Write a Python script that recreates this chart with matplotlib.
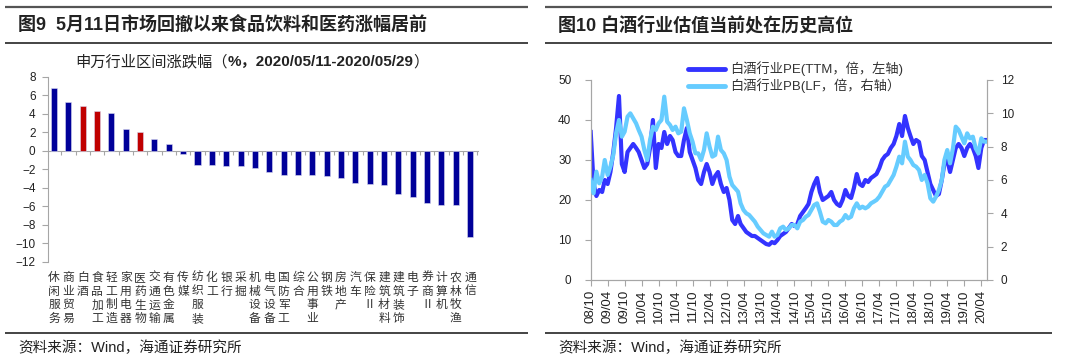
import matplotlib
matplotlib.use('Agg')
import matplotlib.pyplot as plt
import matplotlib.transforms as mtransforms
from matplotlib.lines import Line2D
import pandas as pd
import numpy as np

# ---------------- data ----------------
industries = ['休闲服务', '商业贸易', '白酒', '食品加工', '轻工制造', '家用电器', '医药生物',
              '交通运输', '有色金属', '传媒', '纺织服装', '化工', '银行', '采掘', '机械设备',
              '电气设备', '国防军工', '综合', '公用事业', '钢铁', '房地产', '汽车', '保险Ⅱ',
              '建筑材料', '建筑装饰', '电子', '券商Ⅱ', '计算机', '农林牧渔', '通信']
returns = [6.74, 5.23, 4.86, 4.32, 4.04, 2.38, 1.98, 1.23, 0.68, -0.35,
           -1.59, -1.59, -1.60, -1.66, -1.87, -2.31, -2.63, -2.63, -2.67, -2.77,
           -2.92, -3.53, -3.60, -3.71, -4.72, -4.97, -5.69, -5.87, -5.91, -9.30]
highlight = ['白酒', '食品加工', '医药生物']

# monthly observations from 2008-10 to 2020-05, plus the last day 2020-05-29
pe_ttm = [37, 24, 21,
          22.5, 22, 25, 24, 27, 32, 38, 46, 29, 27, 32, 33,
          34, 33, 32, 30, 28, 29, 33, 40, 28, 34, 33, 37,
          34, 36, 35, 32, 31, 31, 35, 38, 32, 30, 28, 25,
          24, 27, 29, 27, 24, 26, 27, 24, 22, 23, 20, 15,
          14, 16, 14, 13, 12, 11.5, 11, 11, 10.5, 10, 9.5, 9,
          8.8, 9.5, 9.2, 10, 11, 11.5, 12, 13, 14, 13.5, 14, 16,
          17, 18, 19, 22, 24, 25.5, 22, 20, 20.5, 21, 22, 20,
          19, 18.5, 20, 22.5, 21, 20.5, 23, 26.5, 24, 23.5, 25, 24.5,
          25.5, 26, 26.5, 28, 30, 31, 31.5, 33, 34, 36, 39, 36,
          41, 38, 36, 34, 35, 34.5, 31, 30, 27, 24, 22.5, 21,
          21.5, 25, 29, 30, 27, 30, 33, 34, 33, 31, 33, 34,
          33, 31, 28, 33, 35, 35]
pb_lf = [6.0, 5.2, 6.5,
         5.8, 6.2, 7.2, 6.3, 6.8, 7.5, 8.8, 9.6, 8.6, 8.9, 9.8, 10.0,
         9.7, 9.4, 9.0, 8.6, 7.8, 7.2, 8.4, 9.2, 9.0, 9.4, 9.6, 11.0,
         9.5, 9.3, 9.0, 9.2, 8.8, 8.9, 10.3, 9.6, 8.8, 8.3, 7.6, 7.6,
         7.2, 7.8, 8.8, 8.0, 7.4, 7.5, 8.6, 7.8, 7.6, 7.2, 6.2, 5.7,
         5.5, 5.3, 4.6, 4.2, 4.0, 3.9, 3.7, 3.5, 3.2, 3.0, 2.8, 2.7,
         2.6, 2.9, 2.6, 2.7, 3.1, 3.2, 3.0, 3.1, 3.3, 3.3, 3.1, 3.5,
         3.6, 3.8, 3.9, 4.2, 4.5, 4.6, 4.1, 3.5, 3.4, 3.6, 3.5, 3.3,
         3.3, 3.5, 3.6, 3.9, 3.7, 3.8, 4.3, 4.6, 4.3, 4.4, 4.3, 4.4,
         4.6, 4.7, 4.8, 5.0, 5.3, 5.6, 5.7, 6.0, 6.3, 6.8, 7.4, 7.0,
         8.3, 7.4, 7.2, 6.9, 6.8, 6.6, 6.0, 6.3, 5.8, 4.9, 4.7, 5.0,
         5.4, 6.0, 7.2, 7.8, 7.0, 7.9, 9.2, 9.0, 8.6, 8.2, 8.8, 8.5,
         8.6, 7.9, 7.6, 8.5, 8.3, 8.3]
dates = list(pd.date_range('2008-10-01', '2020-05-01', freq='MS')) + [pd.Timestamp('2020-05-29')]

# ---------------- figure ----------------
W, H = 1080, 364
plt.rcParams['font.family'] = ['Liberation Sans', 'Noto Sans CJK SC', 'DejaVu Sans']
fig = plt.figure(figsize=(W / 100, H / 100), dpi=100)


def fx(x):
    return x / W


def fy(y):
    return 1 - y / H


def hline(x0, x1, y, lw, color):
    fig.add_artist(Line2D([fx(x0), fx(x1)], [fy(y), fy(y)], lw=lw, color=color,
                          solid_capstyle='butt'))


TXT = '#222222'
GRAY = '#A6A6A6'

# frame lines
for x0, x1 in [(5, 528), (545, 1052)]:
    hline(x0, x1, 7, 1.6, '#555555')
    hline(x0, x1, 43, 1.1, '#111111')
    hline(x0, x1, 333, 1.1, '#111111')

fig.text(fx(18), fy(25), '图9  5月11日市场回撤以来食品饮料和医药涨幅居前', fontsize=13,
         fontweight='bold', ha='left', va='center', color=TXT)
fig.text(fx(558), fy(25), '图10 白酒行业估值当前处在历史高位', fontsize=13,
         fontweight='bold', ha='left', va='center', color=TXT)
fig.text(fx(18), fy(348), '资料来源：Wind，海通证券研究所', fontsize=10.5,
         ha='left', va='center', color=TXT)
fig.text(fx(558), fy(348), '资料来源：Wind，海通证券研究所', fontsize=10.5,
         ha='left', va='center', color=TXT)

# subtitle in runs (regular / bold)
renderer = fig.canvas.get_renderer()
xpos = 75
for s, wt in [('申万行业区间涨跌幅（', 'normal'), ('%，2020/05/11-2020/05/29', 'bold'), ('）', 'normal')]:
    t = fig.text(fx(xpos), fy(62), s, fontsize=11, fontweight=wt, ha='left', va='center', color=TXT)
    xpos += t.get_window_extent(renderer=renderer).width

# ---------------- left: bar chart ----------------
axL = fig.add_axes([fx(48), fy(261.7), (478 - 48) / W, (261.7 - 76.7) / H])
xs = np.arange(len(industries))
cols = ['#C00000' if n in highlight else '#000099' for n in industries]
axL.bar(xs, returns, width=0.42, color=cols, edgecolor='#D8D8F0', linewidth=0.4, zorder=3)
axL.set_xlim(-0.42, 29.55)
axL.set_ylim(-12, 8)
axL.set_yticks(range(-12, 9, 2))
axL.set_xticks(np.arange(0.5, 29.6, 1))
axL.set_xticklabels([])
for s in ['top', 'right']:
    axL.spines[s].set_visible(False)
axL.spines['left'].set_color(GRAY)
axL.spines['bottom'].set_color(GRAY)
axL.spines['bottom'].set_position(('data', 0))
axL.tick_params(axis='y', length=4, color=GRAY, labelsize=8.5, labelcolor=TXT, pad=5)
axL.tick_params(axis='x', length=3, color=GRAY, direction='out')
axL.patch.set_alpha(0)
trans = mtransforms.blended_transform_factory(axL.transData, fig.transFigure)
for i, name in enumerate(industries):
    axL.text(i, fy(271), '\n'.join(name), transform=trans, ha='center', va='top',
             fontsize=8.5, linespacing=1.07, color='#333333', clip_on=False,
             family=['Noto Sans CJK SC', 'DejaVu Sans'])

# ---------------- right: line chart ----------------
axR = fig.add_axes([fx(590.7), fy(280), (986.7 - 590.7) / W, 200 / H])
axR2 = axR.twinx()
axR.plot(dates, pe_ttm, color='#3333FF', lw=3, solid_joinstyle='round', zorder=2)
axR2.plot(dates, pb_lf, color='#66CCFF', lw=3, solid_joinstyle='round', zorder=3)
axR.set_ylim(0, 50)
axR.set_yticks(range(0, 51, 10))
axR2.set_ylim(0, 12)
axR2.set_yticks(range(0, 13, 2))
axR.set_xlim(pd.Timestamp('2008-10-01'), pd.Timestamp('2020-05-29'))
ticks = pd.date_range('2008-10-01', '2020-04-01', freq='6MS')
axR.set_xticks(ticks)
axR.set_xticklabels([d.strftime('%y/%m') for d in ticks], rotation=90)
for a in (axR, axR2):
    a.spines['top'].set_visible(False)
    for s in ['left', 'right', 'bottom']:
        a.spines[s].set_color(GRAY)
axR.tick_params(axis='y', length=4, color=GRAY, labelsize=8.5, labelcolor=TXT, pad=10)
axR2.tick_params(axis='y', length=4, color=GRAY, labelsize=8.5, labelcolor=TXT, pad=6)
axR.tick_params(axis='x', length=4, color=GRAY, labelsize=9.5, labelcolor=TXT, pad=3)

# legend (drawn in figure pixel coordinates)
for yy, c, lab in [(69, '#3333FF', '白酒行业PE(TTM，倍，左轴)'), (86, '#66CCFF', '白酒行业PB(LF，倍，右轴）')]:
    fig.add_artist(Line2D([fx(688), fx(725)], [fy(yy), fy(yy)], lw=3.5, color=c,
                          solid_capstyle='round'))
    fig.text(fx(730), fy(yy), lab, fontsize=9.5, ha='left', va='center', color='#333333')

fig.savefig('out.png', dpi=100)
